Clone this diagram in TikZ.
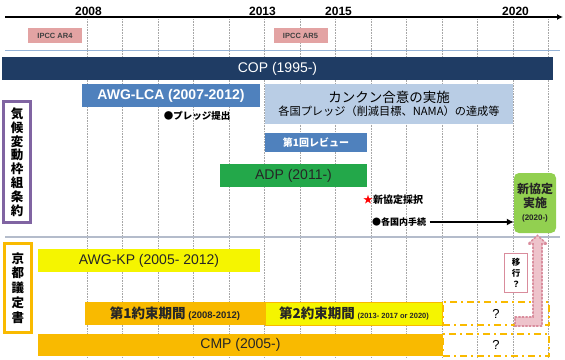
\documentclass[tikz,border=0pt]{standalone}
\usepackage{fontspec}
\setmainfont{Liberation Sans}
\newfontfamily\jp{Noto Sans CJK JP}
\usepackage{tikz}
\usetikzlibrary{arrows.meta}
\usetikzlibrary{positioning}

\definecolor{copblue}{HTML}{1F3C64}
\definecolor{lcablue}{HTML}{4F81BD}
\definecolor{cancun}{HTML}{B9CDE5}
\definecolor{adpgreen}{HTML}{23A84A}
\definecolor{newgreen}{HTML}{92D050}
\definecolor{ipccpink}{HTML}{E3A3A3}
\definecolor{fccpurple}{HTML}{8064A2}
\definecolor{kpgold}{HTML}{F9BA00}
\definecolor{kpyellow}{HTML}{F5F500}
\definecolor{movepink}{HTML}{EEC3CB}
\definecolor{movedot}{HTML}{D98C9C}
\definecolor{gridgray}{HTML}{A6A6A6}
\definecolor{lineblue}{HTML}{95B3D7}
\definecolor{linegray}{HTML}{B4BCCB}

\begin{document}
\begin{tikzpicture}[x=1pt,y=-1pt,
    bar/.style={inner sep=0pt,minimum height=23pt},
    grid/.style={gridgray,densely dotted,line width=0.6pt},
    vbox/.style={line width=3pt,fill=white,inner sep=0pt,align=center,minimum width=27pt,
        font=\jp\bfseries\fontsize{12.5}{13.8}\selectfont},
    pend/.style={draw=kpgold,line width=2pt,dash pattern=on 7pt off 4pt on 2pt off 4pt,
        inner sep=0pt,minimum width=106pt}]
    \useasboundingbox (0,0) rectangle (565,359);

    \foreach \i in {0,...,13}
        \draw[grid] ({87+35.5*\i},19) -- ({87+35.5*\i},358);
    \draw[line width=1.8pt,-{Latex[length=6pt,width=6pt]}] (5,17) -- (563,17);
    \node[font=\bfseries\fontsize{12}{14}\selectfont] (y2008) at (88.5,11) {2008};
    \node[font=\bfseries\fontsize{12}{14}\selectfont] (y2013) at (262.5,11) {2013};
    \node[font=\bfseries\fontsize{12}{14}\selectfont] (y2015) at (338.5,11) {2015};
    \node[font=\bfseries\fontsize{12}{14}\selectfont] (y2020) at (515.5,11) {2020};

    \node[bar,fill=ipccpink,minimum width=54pt,minimum height=15pt,
        font=\bfseries\fontsize{7.5}{9}\selectfont,text=black!75] (ar4) at (55,35.5) {IPCC AR4};
    \node[bar,fill=ipccpink,minimum width=54pt,minimum height=15pt,
        font=\bfseries\fontsize{7.5}{9}\selectfont,text=black!75] (ar5) at (300.5,35.5) {IPCC AR5};
    \draw[lineblue,line width=1pt] (5,50) -- (560,50);

    \node[bar,fill=copblue,minimum width=551pt,text=white,
        font=\fontsize{14}{16}\selectfont] (cop) at (277.5,68.5) {COP (1995-)};
    \node[bar,fill=lcablue,minimum width=178pt,text=white,
        font=\bfseries\fontsize{14}{16}\selectfont] (lca) at (171,95.5) {AWG-LCA (2007-2012)};
    \node[bar,fill=cancun,minimum width=248pt,minimum height=40pt,align=center,
        font=\jp] (cancun) at (389,104)
        {\fontsize{13.5}{16}\selectfont カンクン合意の実施\\[1.5pt]
         \fontsize{11.2}{13}\selectfont 各国プレッジ（削減目標、NAMA）の達成等};
    \node[font=\jp\bfseries\fontsize{9.5}{11}\selectfont] (pledge) at (197,116) {●プレッジ提出};
    \node[bar,fill=lcablue,minimum width=102pt,minimum height=19pt,text=white,
        font=\jp\bfseries\fontsize{10}{12}\selectfont] (review) at (316,142.5) {第1回レビュー};
    \node[bar,fill=adpgreen,minimum width=147pt,text=black!85,
        font=\fontsize{14}{16}\selectfont] (adp) at (293.5,175.5) {ADP (2011-)};
    \node[font=\jp\bfseries\fontsize{10}{12}\selectfont] (adopt) at (393,200)
        {\textcolor{red}{★}新協定採択};
    \node[font=\jp\bfseries\fontsize{9}{11}\selectfont] (proc) at (399,222) {●各国内手続};
    \node[fill=newgreen,rounded corners=5pt,minimum width=42pt,minimum height=60pt,
        inner sep=0pt,align=center,text=black!85,
        font=\jp\bfseries\fontsize{12}{14}\selectfont] (newdeal) at (535,203)
        {新協定\\実施\\[-1pt] \rmfamily\fontsize{8}{10}\selectfont (2020-)};
    \draw[line width=1.6pt,-{Latex[length=7pt,width=7pt]}] (proc.east) -- (proc.east -| newdeal.west);

    \node[vbox,draw=fccpurple,minimum height=121pt] (fccc) at (17,162)
        {気\\候\\変\\動\\枠\\組\\条\\約};
    \draw[linegray,line width=2pt] (5,237) -- (560,237);
    \node[vbox,draw=kpgold,minimum height=89pt,font=\jp\bfseries\fontsize{12.5}{14.8}\selectfont]
        (kyoto) at (18,288) {京\\都\\議\\定\\書};

    \node[bar,fill=kpyellow,minimum width=222pt,text=black!85,
        font=\fontsize{14}{16}\selectfont] (awgkp) at (149,260.5) {AWG-KP (2005- 2012)};
    \node[bar,fill=kpgold,minimum width=180pt,text=black!85] (cp1) at (175,313.5)
        {{\jp\bfseries\fontsize{13.5}{16}\selectfont 第1約束期間}
         {\bfseries\fontsize{9.5}{11}\selectfont (2008-2012)}};
    \node[bar,fill=kpyellow,draw=kpgold,line width=1pt,minimum width=177pt,text=black!85]
        (cp2) at (354,313.5)
        {{\jp\bfseries\fontsize{13.5}{16}\selectfont 第2約束期間}
         {\bfseries\fontsize{7.5}{9}\selectfont (2013- 2017 or 2020)}};
    \node[bar,fill=kpgold,minimum width=405pt,minimum height=22pt,text=black!85,
        font=\fontsize{14}{16}\selectfont] (cmp) at (240.5,345) {CMP (2005-)};
    \node[pend,minimum height=23pt,font=\fontsize{13}{15}\selectfont] (pend1) at (496,313.5) {?};
    \node[pend,minimum height=22pt,font=\fontsize{13}{15}\selectfont] (pend2) at (496,345) {?};

    \coordinate (mvstart) at (515,317);
    \filldraw[fill=movepink,draw=movedot,line width=1.6pt,dotted,line cap=round]
        (mvstart) -- (533,317) -- (533,244) -- (528,244) -- (537.5,235.5)
        -- (547,244) -- (542,244) -- (542,326) -- (515,326) -- cycle;
    \node[draw=movedot,line width=1pt,fill=white,minimum width=23pt,minimum height=39pt,
        inner sep=0pt,align=center,font=\jp\bfseries\fontsize{8.5}{11}\selectfont]
        (move) at (516,272.5) {移\\行\\？};
\end{tikzpicture}
\end{document}
